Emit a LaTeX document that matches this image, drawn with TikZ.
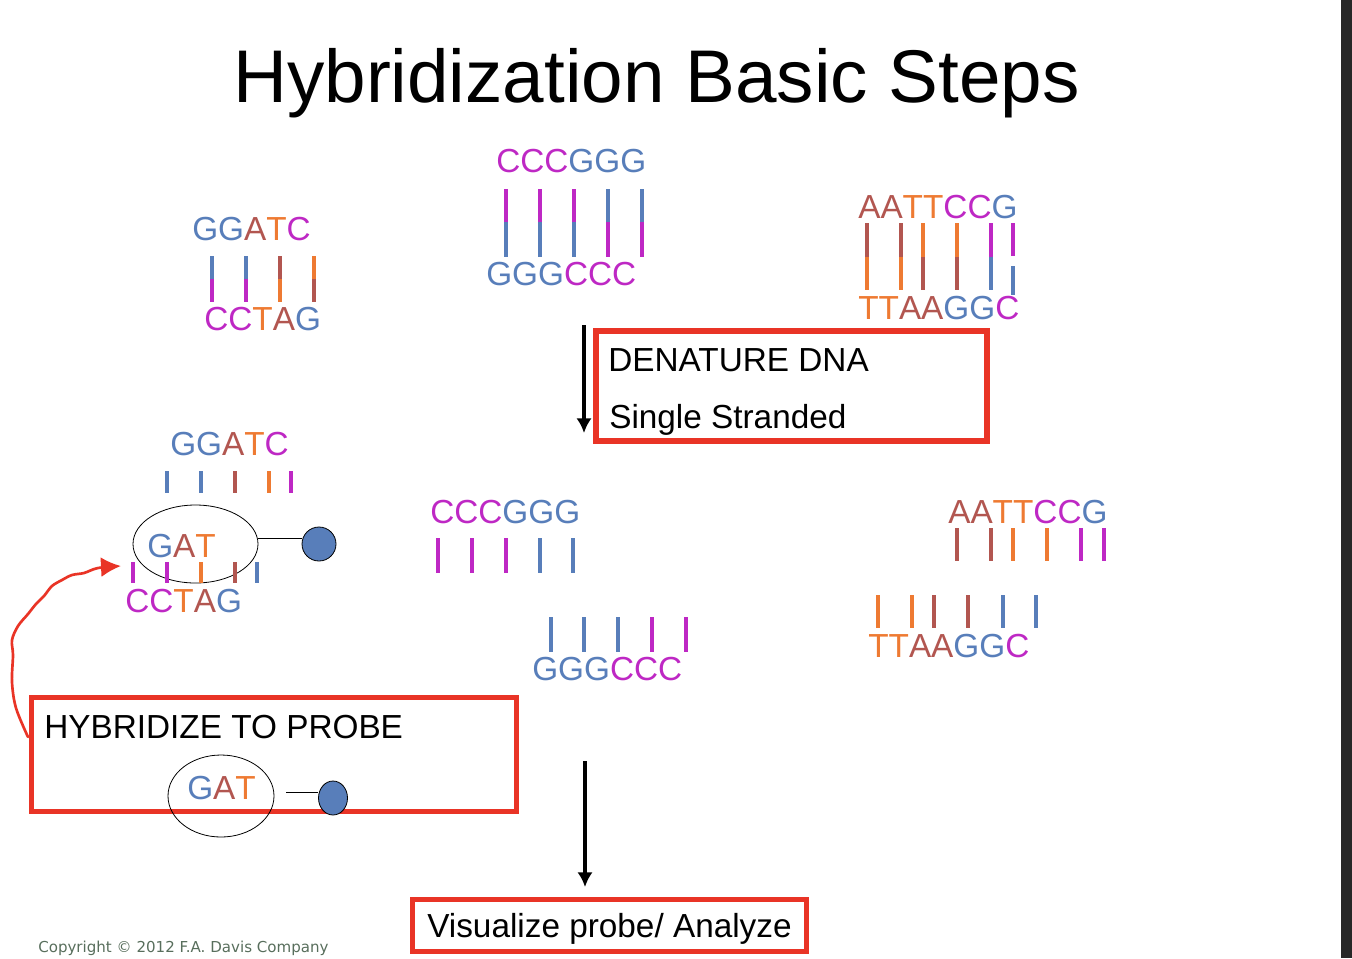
\documentclass[tikz,border=0pt]{standalone}
\usepackage{fontspec}
\setmainfont{Liberation Sans}
\newfontfamily\copyfont{DejaVu Sans}
\usetikzlibrary{arrows.meta,shapes.geometric}

\definecolor{dnaBlue}{RGB}{88,126,186}
\definecolor{dnaMag}{RGB}{190,40,196}
\definecolor{dnaBrown}{RGB}{178,86,80}
\definecolor{dnaOrange}{RGB}{238,122,50}
\definecolor{boxRed}{RGB}{233,52,38}
\definecolor{copyGray}{RGB}{88,110,92}
\definecolor{barDark}{RGB}{40,40,40}

\newcommand{\nB}[1]{\textcolor{dnaBlue}{#1}}
\newcommand{\nM}[1]{\textcolor{dnaMag}{#1}}
\newcommand{\nR}[1]{\textcolor{dnaBrown}{#1}}
\newcommand{\nO}[1]{\textcolor{dnaOrange}{#1}}

\tikzset{
  dna/.style={inner sep=0pt,anchor=base west,font=\fontsize{25}{30}\selectfont},
  boxtext/.style={inner sep=0pt,anchor=base west,font=\fontsize{25}{30}\selectfont},
  pair/.style={line width=3pt},
  redbox/.style={draw=boxRed,line width=3.75pt},
  ring/.style={ellipse,draw=black,line width=0.6pt,inner sep=0pt},
  probedot/.style={ellipse,draw=black,fill=dnaBlue,line width=0.6pt,inner sep=0pt},
  probeline/.style={black,line width=0.6pt},
  steparrow/.style={line width=2.6pt,->},
}

\begin{document}
\begin{tikzpicture}[x=0.75pt,y=-0.75pt,>={Latex[length=11pt,width=11.5pt]}]
\useasboundingbox (0,0) rectangle (1352,958);

% Dark strip at the right edge
\fill[barDark] (1341,0) rectangle (1352,958);

% Title
\node[inner sep=0pt,anchor=base west,font=\fontsize{56}{60}\selectfont] (title) at (233,102) {Hybridization Basic Steps};

% Double stranded DNA, left
\node[dna] (ggatcA) at (192,240) {\nB{GG}\nR{A}\nO{T}\nM{C}};
\foreach \x/\ct/\cb in {212/dnaBlue/dnaMag,246/dnaBlue/dnaMag,280/dnaBrown/dnaOrange,314/dnaOrange/dnaBrown}{
  \draw[pair,\ct] (\x,256) -- (\x,279);
  \draw[pair,\cb] (\x,279) -- (\x,302);
}
\node[dna] (cctagA) at (204,330) {\nM{CC}\nO{T}\nR{A}\nB{G}};

% Double stranded DNA, middle
\node[dna] (cccgggA) at (496,172) {\nM{CCC}\nB{GGG}};
\foreach \x/\ct/\cb in {506/dnaMag/dnaBlue,540/dnaMag/dnaBlue,574/dnaMag/dnaBlue,608/dnaBlue/dnaMag,642/dnaBlue/dnaMag}{
  \draw[pair,\ct] (\x,189) -- (\x,222);
  \draw[pair,\cb] (\x,222) -- (\x,257);
}
\node[dna] (gggcccA) at (486,285) {\nB{GGG}\nM{CCC}};

% Double stranded DNA, right
\node[dna] (aattccgA) at (858,218) {\nR{AA}\nO{TT}\nM{CC}\nB{G}};
\foreach \x/\ct/\cb in {867/dnaBrown/dnaOrange,901/dnaBrown/dnaOrange,923/dnaOrange/dnaBrown,957/dnaOrange/dnaBrown,991/dnaMag/dnaBlue}{
  \draw[pair,\ct] (\x,223) -- (\x,257);
  \draw[pair,\cb] (\x,257) -- (\x,290);
}
\draw[pair,dnaMag] (1013,223) -- (1013,256);
\draw[pair,dnaBlue] (1013,266) -- (1013,295);
\node[dna] (ttaaggcA) at (858,319) {\nO{TT}\nR{AA}\nB{GG}\nM{C}};

% Denature step
\draw[steparrow] (584,325) -- (584,433);
\draw[redbox,line width=4.5pt] (596,331) rectangle (987,441);
\node[boxtext] (denature) at (608,371) {DENATURE DNA};
\node[boxtext] (single) at (609,428) {Single Stranded};

% Probe bound to single strand, left
\node[dna] (ggatcB) at (170,455) {\nB{GG}\nR{A}\nO{T}\nM{C}};
\foreach \x/\c in {167/dnaBlue,201/dnaBlue,235/dnaBrown,269/dnaOrange,291/dnaMag}
  \draw[pair,\c] (\x,471) -- (\x,493);
\node[ring,minimum width=93.75pt,minimum height=58.5pt] (ringB) at (195.5,544) {};
\node[dna] (gatB) at (147,557) {\nB{G}\nR{A}\nO{T}};
\node[probedot,minimum width=25.5pt,minimum height=25.5pt] (dotB) at (319,544) {};
\draw[probeline] ([yshift=4.5pt]ringB.east) -- ([yshift=4.5pt]dotB.west);
\foreach \x/\c in {133/dnaMag,167/dnaMag,201/dnaOrange,235/dnaBrown,257/dnaBlue}
  \draw[pair,\c] (\x,562) -- (\x,583);
\node[dna] (cctagB) at (125,612) {\nM{CC}\nO{T}\nR{A}\nB{G}};

% Single strands, middle
\node[dna] (cccgggB) at (430,523) {\nM{CCC}\nB{GGG}};
\foreach \x/\c in {438/dnaMag,472/dnaMag,506/dnaMag,540/dnaBlue,573/dnaBlue}
  \draw[pair,\c] (\x,538) -- (\x,573);
\foreach \x/\c in {551/dnaBlue,584/dnaBlue,618/dnaBlue,652/dnaMag,686/dnaMag}
  \draw[pair,\c] (\x,617) -- (\x,652);
\node[dna] (gggcccB) at (532,680) {\nB{GGG}\nM{CCC}};

% Single strands, right
\node[dna] (aattccgB) at (948,523) {\nR{AA}\nO{TT}\nM{CC}\nB{G}};
\foreach \x/\c in {957/dnaBrown,991/dnaBrown,1013/dnaOrange,1047/dnaOrange,1081/dnaMag,1104/dnaMag}
  \draw[pair,\c] (\x,528) -- (\x,561);
\foreach \x/\c in {878/dnaOrange,912/dnaOrange,934/dnaBrown,968/dnaBrown,1003/dnaBlue,1036/dnaBlue}
  \draw[pair,\c] (\x,595) -- (\x,628);
\node[dna] (ttaaggcB) at (868,657) {\nO{TT}\nR{AA}\nB{GG}\nM{C}};

% Hybridize step
\draw[redbox] (31.5,697) rectangle (516.5,811);
\node[boxtext] (hyb) at (44,738.5) {HYBRIDIZE TO PROBE};
\node[ring,minimum width=79.5pt,minimum height=61.5pt] (ringP) at (221,796) {};
\node[dna] (gatP) at (187,799) {\nB{G}\nR{A}\nO{T}};
\node[probedot,minimum width=21.75pt,minimum height=25.5pt] (dotP) at (333,798) {};
\draw[probeline] ([xshift=9pt,yshift=3pt]ringP.east) -- ([yshift=4.5pt]dotP.west);

% Hand drawn red arrow to the probe
\coordinate (curveStart) at (28,737);
\coordinate (curveEnd) at (121,566);
\draw[boxRed,line width=2pt,line cap=round,-{Latex[length=15pt,width=15pt]}]
  plot[smooth,tension=0.55] coordinates {(curveStart) (16,708) (12,682) (13,655) (12,640) (18,626) (28,614) (36,604) (44,596) (52,586) (62,580) (72,575) (84,573) (98,568) (curveEnd)};

% Visualize step
\draw[steparrow] (585,761) -- (585,887);
\draw[redbox] (412.5,899.5) rectangle (806.5,951.5);
\node[boxtext] (vis) at (427,937) {Visualize probe/ Analyze};

% Copyright line
\node[inner sep=0pt,anchor=base west,font=\copyfont\fontsize{11.3}{13}\selectfont,text=copyGray] (copy) at (38,952) {Copyright © 2012 F.A. Davis Company};

\end{tikzpicture}
\end{document}
